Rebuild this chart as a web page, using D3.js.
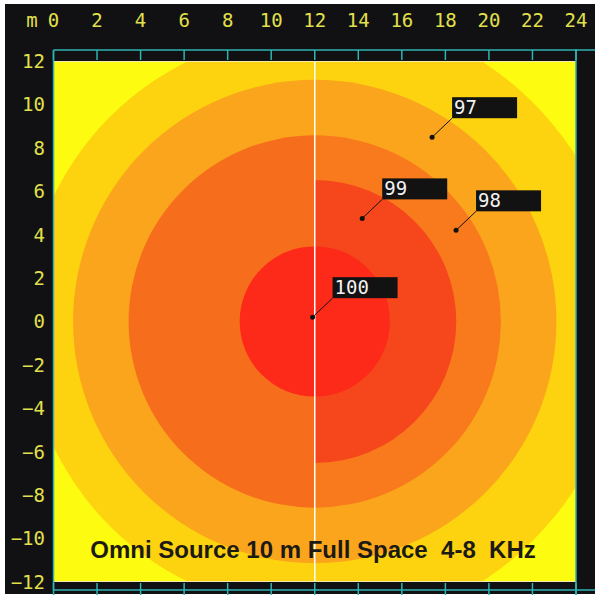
<!DOCTYPE html>
<html>
<head>
<meta charset="utf-8">
<script src="https://cdn.jsdelivr.net/npm/d3@7"></script>
<style>
  body { margin: 0; background: #ffffff; }
  svg { display: block; }
</style>
</head>
<body>
<div id="chart"></div>
<script>
// level bands: outer radius (m) of each band from the source, per half
var rightLevels = [100, 99, 98, 97, 96];
var rightColors = ["#fd2a1a", "#f5461c", "#f87a1c", "#fba51c", "#fdd20f"];
var rightRadii = [3.45, 6.5, 8.55, 11.1, 14.2];
var leftLevels = [100, 98, 97, 96];
var leftColors = ["#fd2a1a", "#f66e1c", "#fba51c", "#fdd20f"];
var leftRadii = [3.45, 8.55, 11.1, 13.3];
var source = {x: 12, y: 0};

var xTicks = [0, 2, 4, 6, 8, 10, 12, 14, 16, 18, 20, 22, 24];
var yTicks = [12, 10, 8, 6, 4, 2, 0, -2, -4, -6, -8, -10, -12];

// probe labels
var probes = [
  {label: "100", x: 11.9, y: 0.2},
  {label: "99", x: 14.18, y: 4.75},
  {label: "98", x: 18.49, y: 4.2},
  {label: "97", x: 17.39, y: 8.49}
];
var title = "Omni Source 10 m Full Space\u00a0\u00a04-8\u00a0\u00a0KHz";

var W = 595, H = 595;
var svg = d3.select("#chart").append("svg")
    .attr("width", W).attr("height", H);

var x = d3.scaleLinear().domain([0, 24]).range([53.5, 576]);
var y = d3.scaleLinear().domain([-12, 12]).range([582, 61]);

var cyan = "#2fb3b3";
var tickCol = "#e2e04c";

// black frame
svg.append("rect").attr("x", 5).attr("y", 4).attr("width", 590).attr("height", 590)
    .attr("fill", "#111113");

// clip paths for the two halves
var defs = svg.append("defs");
defs.append("clipPath").attr("id", "clipL").append("rect")
    .attr("x", x(0)).attr("y", y(12)).attr("width", x(source.x) - x(0)).attr("height", y(-12) - y(12));
defs.append("clipPath").attr("id", "clipR").append("rect")
    .attr("x", x(source.x)).attr("y", y(12)).attr("width", x(24) - x(source.x)).attr("height", y(-12) - y(12));

// plot background (lowest level)
svg.append("rect").attr("x", x(0)).attr("y", y(12))
    .attr("width", x(24) - x(0)).attr("height", y(-12) - y(12))
    .attr("fill", "#fdfb10");

var pxPerM = x(1) - x(0);
function drawHalf(radii, colors, clip) {
  var g = svg.append("g").attr("clip-path", "url(#" + clip + ")");
  var idx = d3.range(radii.length).reverse();
  g.selectAll("circle").data(idx).enter().append("circle")
    .attr("cx", x(source.x)).attr("cy", y(source.y))
    .attr("r", function(i) { return radii[i] * pxPerM; })
    .attr("fill", function(i) { return colors[i]; });
}
drawHalf(leftRadii, leftColors, "clipL");
drawHalf(rightRadii, rightColors, "clipR");

// white line through the source
svg.append("line")
    .attr("x1", x(source.x)).attr("x2", x(source.x))
    .attr("y1", y(12)).attr("y2", y(-12))
    .attr("stroke", "#ffffff").attr("stroke-width", 1.5);

// pale edge lines on top/bottom of plot
svg.append("line").attr("x1", x(0)).attr("x2", x(24)).attr("y1", y(12) + 0.5).attr("y2", y(12) + 0.5)
    .attr("stroke", "#f3eab0").attr("stroke-width", 1);
svg.append("line").attr("x1", x(0)).attr("x2", x(24)).attr("y1", y(-12) - 0.5).attr("y2", y(-12) - 0.5)
    .attr("stroke", "#f3eab0").attr("stroke-width", 1);

// title
svg.append("text")
    .attr("x", 313).attr("y", 558)
    .attr("text-anchor", "middle")
    .attr("font-family", "Liberation Sans, Arial, sans-serif")
    .attr("font-weight", "bold")
    .attr("font-size", 24)
    .attr("fill", "#1c1a14")
    .text(title);

// rulers
var ruler = svg.append("g").attr("stroke", cyan).attr("stroke-width", 1.5).attr("fill", "none");
ruler.append("line").attr("x1", x(0)).attr("x2", 595).attr("y1", 50).attr("y2", 50);
ruler.append("line").attr("x1", x(0)).attr("x2", 595).attr("y1", 590).attr("y2", 590);
ruler.append("line").attr("x1", x(0)).attr("x2", x(0)).attr("y1", 50).attr("y2", 590);
ruler.append("line").attr("x1", x(24)).attr("x2", x(24)).attr("y1", 49).attr("y2", 595);
ruler.selectAll(".tt").data(xTicks).enter().append("line")
    .attr("x1", function(d) { return x(d); }).attr("x2", function(d) { return x(d); })
    .attr("y1", 50).attr("y2", 60);
ruler.selectAll(".bt").data(xTicks).enter().append("line")
    .attr("x1", function(d) { return x(d); }).attr("x2", function(d) { return x(d); })
    .attr("y1", 583).attr("y2", 595);

// tick labels
var mono = "DejaVu Sans Mono, monospace";
svg.selectAll(".xl").data(xTicks).enter().append("text")
    .attr("x", function(d) { return x(d); }).attr("y", 27)
    .attr("text-anchor", "middle")
    .attr("font-family", mono).attr("font-size", 19)
    .attr("fill", tickCol)
    .text(function(d) { return d; });
svg.append("text").attr("x", 32).attr("y", 27).attr("text-anchor", "middle")
    .attr("font-family", mono).attr("font-size", 19).attr("fill", tickCol).text("m");
svg.selectAll(".yl").data(yTicks).enter().append("text")
    .attr("x", 45).attr("y", function(d) { return y(d); })
    .attr("dy", "0.36em")
    .attr("text-anchor", "end")
    .attr("font-family", mono).attr("font-size", 19)
    .attr("fill", tickCol)
    .text(function(d) { return d < 0 ? "\u2212" + Math.abs(d) : d; });

// probe labels
var pg = svg.selectAll(".probe").data(probes).enter().append("g")
    .attr("transform", function(d) { return "translate(" + x(d.x) + "," + y(d.y) + ")"; });
pg.append("line").attr("x1", 0).attr("y1", 0).attr("x2", 20).attr("y2", -19)
    .attr("stroke", "#111").attr("stroke-width", 1);
pg.append("circle").attr("r", 2.5).attr("fill", "#111");
pg.append("rect").attr("x", 20).attr("y", -40).attr("width", 65).attr("height", 21)
    .attr("fill", "#121212");
pg.append("text").attr("x", 22).attr("y", -23)
    .attr("font-family", mono).attr("font-size", 19)
    .attr("fill", "#f2f2f2")
    .text(function(d) { return d.label; });
</script>
</body>
</html>
